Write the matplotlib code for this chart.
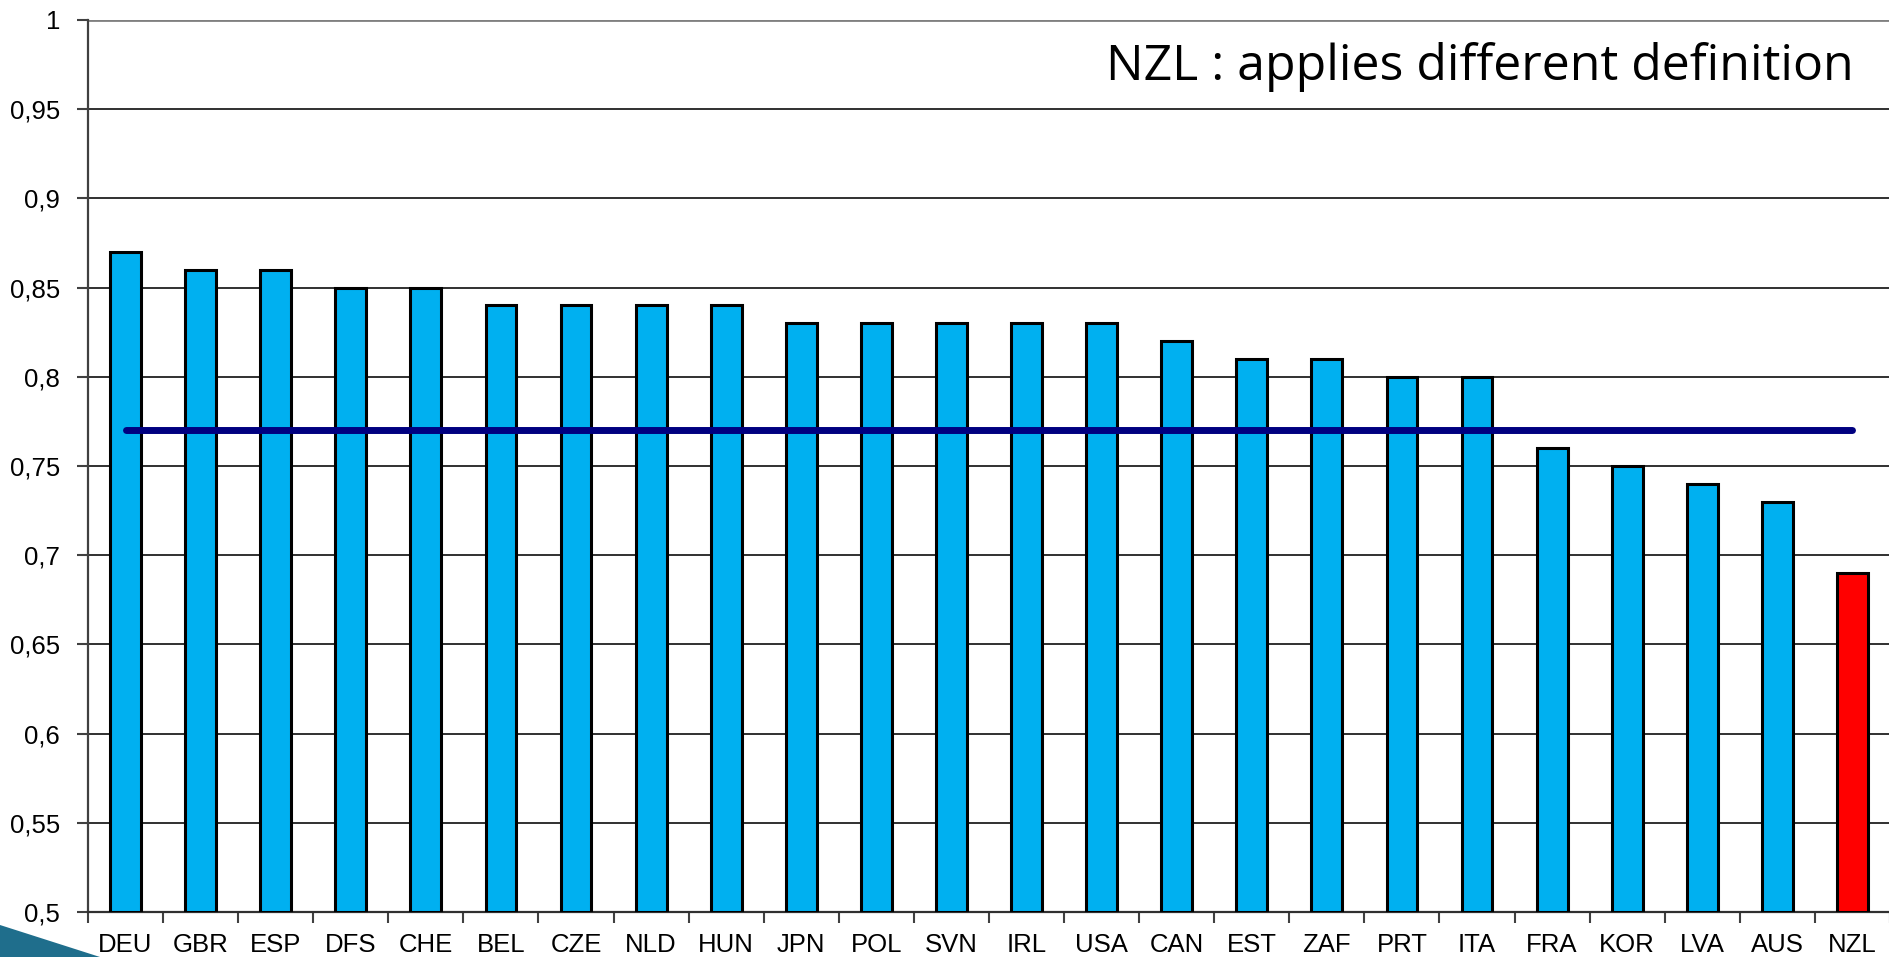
import matplotlib
matplotlib.use("Agg")
import matplotlib.pyplot as plt
from matplotlib.patches import Polygon
from matplotlib.ticker import FixedLocator

categories = ["DEU", "GBR", "ESP", "DFS", "CHE", "BEL", "CZE", "NLD", "HUN", "JPN",
              "POL", "SVN", "IRL", "USA", "CAN", "EST", "ZAF", "PRT", "ITA", "FRA",
              "KOR", "LVA", "AUS", "NZL"]
values = [0.87, 0.86, 0.86, 0.85, 0.85, 0.84, 0.84, 0.84, 0.84, 0.83,
          0.83, 0.83, 0.83, 0.83, 0.82, 0.81, 0.81, 0.80, 0.80, 0.76,
          0.75, 0.74, 0.73, 0.69]
average = 0.77
highlight = "NZL"
yticks = [0.5, 0.55, 0.6, 0.65, 0.7, 0.75, 0.8, 0.85, 0.9, 0.95, 1.0]
note = "NZL : applies different definition"

fig = plt.figure(figsize=(18.9, 9.57), dpi=100)
ax = fig.add_axes([88/1890, 1 - 912/957, 1 - 88/1890, (912 - 20)/957])

x = list(range(len(categories)))
colors = ["#FF0000" if c == highlight else "#00B0F0" for c in categories]
ax.bar(x, [v - 0.5 for v in values], bottom=0.5, width=0.41, color=colors,
       edgecolor="black", linewidth=2.2, zorder=3)
ax.plot([x[0], x[-1]], [average, average], color="#000080", linewidth=5,
        solid_capstyle="round", zorder=4)

ax.set_xlim(-0.5, len(categories) - 0.5)
ax.set_ylim(0.5, 1.0)
ax.set_yticks(yticks)
ax.set_yticklabels([("%g" % t).replace(".", ",") for t in yticks],
                   fontfamily="Liberation Sans", fontsize=18.5)
ax.set_xticks(x)
ax.set_xticklabels(categories, fontfamily="Liberation Sans", fontsize=18.5)
ax.xaxis.set_minor_locator(FixedLocator([i - 0.5 for i in range(len(categories) + 1)]))
ax.tick_params(axis="x", which="major", length=0, pad=15)
ax.tick_params(axis="x", which="minor", length=8, width=1.5, color="#404040", direction="out")
ax.tick_params(axis="y", length=8, width=1.5, color="#404040", direction="out", pad=12)

for t in yticks[1:-1]:
    ax.axhline(t, color="#303030", linewidth=1.4, zorder=1)
ax.axhline(1.0, color="#808080", linewidth=2, zorder=1)

for s in ["top", "right"]:
    ax.spines[s].set_visible(False)
ax.spines["left"].set_color("#404040")
ax.spines["left"].set_linewidth(1.6)
ax.spines["bottom"].set_color("#303030")
ax.spines["bottom"].set_linewidth(1.6)

fig.text(1854/1890, 1 - 80/957, note, ha="right", va="baseline",
         fontfamily="Open Sans", fontsize=36, color="black")

fig.patches.append(Polygon([[0, 1 - 925/957], [100/1890, 0], [0, 0]], closed=True,
                           transform=fig.transFigure, facecolor="#1F6E8C",
                           edgecolor="none", zorder=10))

fig.savefig("out.png", dpi=100)
